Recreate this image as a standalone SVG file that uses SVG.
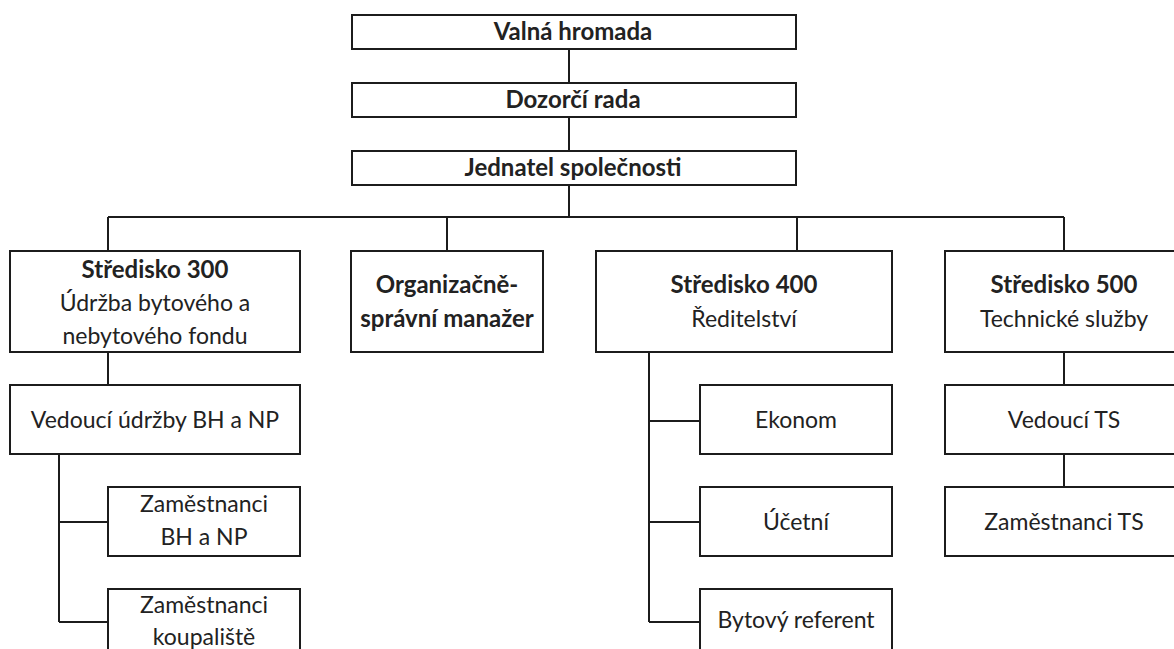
<svg xmlns="http://www.w3.org/2000/svg" width="1174" height="649" viewBox="0 0 1174 649">
<style>
rect.box{fill:#fff;stroke:#1c1c1c;stroke-width:2}
#connectors path{fill:none;stroke:#1c1c1c;stroke-width:2}
text{font-family:Lato,"Liberation Sans",sans-serif;font-size:23px;fill:#222;text-anchor:middle}
text.b{font-weight:bold;font-size:24px}
</style>
<rect width="1174" height="649" fill="#fff"/>
<g id="connectors">
<path d="M569 49V83M569 117V151M569 185V217"/>
<path d="M108 217H1064M108 217V251M447 217V251M797 217V251M1064 217V251"/>
<path d="M108 352V385M59 454V622M59 522H108M59 622H108"/>
<path d="M649 352V622M649 421H700M649 522H700M649 622H700"/>
<path d="M1064 352V385M1064 454V487"/>
</g>
<g id="valna"><rect class="box" x="352" y="15" width="444" height="34"/><text class="b" x="573" y="40">Valná hromada</text></g>
<g id="dozorci"><rect class="box" x="352" y="83" width="444" height="34"/><text class="b" x="573" y="108">Dozorčí rada</text></g>
<g id="jednatel"><rect class="box" x="352" y="151" width="444" height="34"/><text class="b" x="573" y="176">Jednatel společnosti</text></g>
<g id="s300"><rect class="box" x="10" y="251" width="290" height="101"/><text class="b" x="155" y="278">Středisko 300</text><text x="155" y="311">Údržba bytového a</text><text x="155" y="344">nebytového fondu</text></g>
<g id="org"><rect class="box" x="351" y="251" width="192" height="101"/><text class="b" x="447" y="293">Organizačně-</text><text class="b" x="447" y="327">správní manažer</text></g>
<g id="s400"><rect class="box" x="596" y="251" width="296" height="101"/><text class="b" x="744" y="293">Středisko 400</text><text x="744" y="327">Ředitelství</text></g>
<g id="s500"><rect class="box" x="945" y="251" width="240" height="101"/><text class="b" x="1064" y="293">Středisko 500</text><text x="1064" y="327">Technické služby</text></g>
<g id="vedouci-bh"><rect class="box" x="10" y="385" width="290" height="69"/><text x="155" y="428">Vedoucí údržby BH a NP</text></g>
<g id="zam-bh"><rect class="box" x="108" y="487" width="192" height="69"/><text x="204" y="512">Zaměstnanci</text><text x="204" y="545">BH a NP</text></g>
<g id="zam-koup"><rect class="box" x="108" y="589" width="192" height="69"/><text x="204" y="613">Zaměstnanci</text><text x="204" y="645">koupaliště</text></g>
<g id="ekonom"><rect class="box" x="700" y="385" width="192" height="69"/><text x="796" y="428">Ekonom</text></g>
<g id="ucetni"><rect class="box" x="700" y="487" width="192" height="69"/><text x="796" y="530">Účetní</text></g>
<g id="bytovy"><rect class="box" x="700" y="589" width="192" height="69"/><text x="796" y="628">Bytový referent</text></g>
<g id="vedouci-ts"><rect class="box" x="945" y="385" width="240" height="69"/><text x="1064" y="428">Vedoucí TS</text></g>
<g id="zam-ts"><rect class="box" x="945" y="487" width="240" height="69"/><text x="1064" y="530">Zaměstnanci TS</text></g>
</svg>
